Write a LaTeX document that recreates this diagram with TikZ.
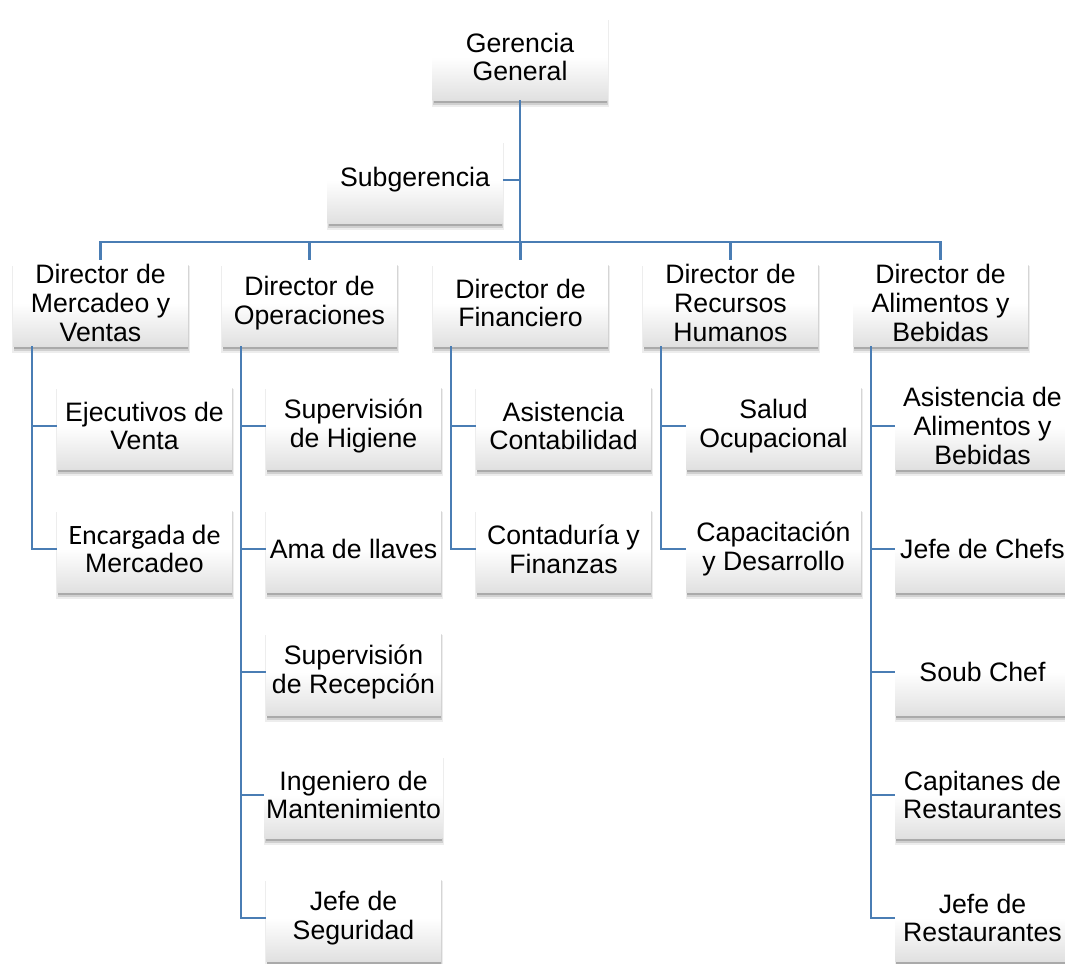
\documentclass[tikz,border=0pt]{standalone}
\usepackage{fontspec}
\setmainfont{Liberation Sans}
\newfontfamily\calib{Carlito}
\usetikzlibrary{shadows}
\definecolor{lineblue}{RGB}{74,125,180}
\tikzset{
  px/.style={x=0.75pt,y=-0.75pt},
  box/.style={rectangle, minimum width=131.25pt, minimum height=64.5pt,
    inner sep=1pt, align=center, top color=white, bottom color=black!12, middle color=white,
    font=\fontsize{20}{21.5}\selectfont,
    drop shadow={shadow xshift=0.4pt, shadow yshift=-5pt, shadow scale=1.012, fill=black, opacity=0.07},
    drop shadow={shadow xshift=0.4pt, shadow yshift=-3.8pt, fill=black, opacity=0.12},
    drop shadow={shadow xshift=0.3pt, shadow yshift=-2.6pt, shadow scale=0.99, fill=black, opacity=0.18}},
  conn/.style={draw=lineblue, line width=1.9pt}
}
\begin{document}
\begin{tikzpicture}[px]
\useasboundingbox (0,0) rectangle (1065,964);
\fill[white] (0,0) rectangle (1065,964);
\coordinate (bus) at (520,242);
% nodes
\node[box] (gg) at (520,57) {Gerencia\\General};
\node[box] (sub) at (415,180) {Subgerencia};
\node[box] (d1) at (100.5,303) {Director de\\Mercadeo y\\Ventas};
\node[box] (d2) at (309.5,303) {Director de\\Operaciones};
\node[box] (d3) at (520.5,303) {Director de\\Financiero};
\node[box] (d4) at (730.5,303) {Director de\\Recursos\\Humanos};
\node[box] (d5) at (940.5,303) {Director de\\Alimentos y\\Bebidas};
\node[box] (c11) at (144.5,426) {Ejecutivos de\\Venta};
\node[box] (c12) at (144.5,549) {\calib\fontsize{21}{24}\selectfont Encargada de\\Mercadeo};
\node[box] (c21) at (353.5,426) {Supervisión\\de Higiene};
\node[box] (c22) at (353.5,549) {Ama de llaves};
\node[box] (c23) at (353.5,672) {Supervisión\\de Recepción};
\node[box] (c24) at (353.5,795) {Ingeniero de\\Mantenimiento};
\node[box] (c25) at (353.5,918) {Jefe de\\Seguridad};
\node[box] (c31) at (563.5,426) {Asistencia\\Contabilidad};
\node[box] (c32) at (563.5,549) {Contaduría y\\Finanzas};
\node[box] (c41) at (773.5,426) {Salud\\Ocupacional};
\node[box] (c42) at (773.5,549) {Capacitación\\y Desarrollo};
\node[box] (c51) at (982.5,426) {Asistencia de\\Alimentos y\\Bebidas};
\node[box] (c52) at (982.5,549) {Jefe de Chefs};
\node[box] (c53) at (982.5,672) {Soub Chef};
\node[box] (c54) at (982.5,795) {Capitanes de\\Restaurantes};
\node[box] (c55) at (982.5,918) {Jefe de\\Restaurantes};
% vertical line positions
\coordinate (v1) at (32,0);
\coordinate (v2) at (241,0);
\coordinate (v3) at (451,0);
\coordinate (v4) at (661,0);
\coordinate (v5) at (871,0);
% connectors
\draw[conn] (gg.south) -- (bus);
\draw[conn] (sub.east) -- (sub.east -| bus);
\draw[conn] (d1.north) |- (bus) -| (d5.north);
\draw[conn] (d2.north) -- (d2.north |- bus);
\draw[conn] (d3.north) -- (d3.north |- bus);
\draw[conn] (d4.north) -- (d4.north |- bus);
\draw[conn] (v1 |- d1.south) |- (c12.west);
\draw[conn] (v1 |- c11.west) -- (c11.west);
\draw[conn] (v2 |- d2.south) |- (c25.west);
\foreach \c in {c21,c22,c23,c24} \draw[conn] (v2 |- \c.west) -- (\c.west);
\draw[conn] (v3 |- d3.south) |- (c32.west);
\draw[conn] (v3 |- c31.west) -- (c31.west);
\draw[conn] (v4 |- d4.south) |- (c42.west);
\draw[conn] (v4 |- c41.west) -- (c41.west);
\draw[conn] (v5 |- d5.south) |- (c55.west);
\foreach \c in {c51,c52,c53,c54} \draw[conn] (v5 |- \c.west) -- (\c.west);
\end{tikzpicture}
\end{document}
